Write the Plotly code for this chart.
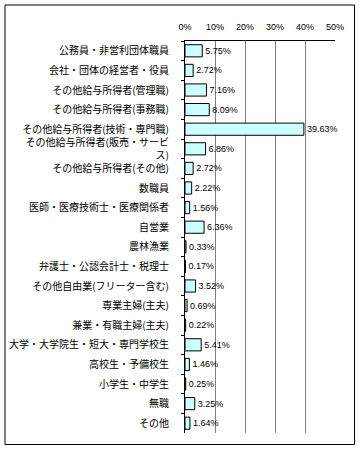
import plotly.graph_objects as go

categories = [
    "公務員・非営利団体職員",
    "会社・団体の経営者・役員",
    "その他給与所得者(管理職)",
    "その他給与所得者(事務職)",
    "その他給与所得者(技術・専門職)",
    "その他給与所得者(販売・サービ<br>ス)",
    "その他給与所得者(その他)",
    "数職員",
    "医師・医療技術士・医療関係者",
    "自営業",
    "農林漁業",
    "弁護士・公認会計士・税理士",
    "その他自由業(フリーター含む)",
    "専業主婦(主夫)",
    "兼業・有職主婦(主夫)",
    "大学・大学院生・短大・専門学校生",
    "高校生・予備校生",
    "小学生・中学生",
    "無職",
    "その他",
]
values = [5.75, 2.72, 7.16, 8.09, 39.63, 6.86, 2.72, 2.22, 1.56, 6.36,
          0.33, 0.17, 3.52, 0.69, 0.22, 5.41, 1.46, 0.25, 3.25, 1.64]
tick_vals = [0, 10, 20, 30, 40, 50]
tick_text = ["0%", "10%", "20%", "30%", "40%", "50%"]

fig = go.Figure(go.Bar(
    x=values, y=categories, orientation="h",
    marker=dict(color="#CCFFFF", line=dict(color="black", width=1)),
    width=0.62,
    text=[f"{v:.2f}%" for v in values],
    textposition="outside",
    textfont=dict(family="Arial, Liberation Sans", size=9, color="black"),
    cliponaxis=False,
))

fig.update_layout(
    width=360, height=450,
    margin=dict(l=185, r=25, t=41, b=17),
    paper_bgcolor="white", plot_bgcolor="white",
    showlegend=False,
    font=dict(family="Noto Sans CJK JP", color="black"),
    xaxis=dict(
        side="top", range=[0, 50], tickvals=tick_vals, ticktext=tick_text,
        showgrid=True, gridcolor="#808080", gridwidth=1,
        zeroline=False, showline=True, linecolor="black", linewidth=1,
        ticks="", tickfont=dict(family="Arial, Liberation Sans", size=9),
        ticklabelstandoff=6, fixedrange=True, automargin=False,
    ),
    yaxis=dict(
        autorange="reversed", showline=True, linecolor="black", linewidth=1,
        ticks="outside", ticklen=3, tickcolor="black", tickson="boundaries",
        tickfont=dict(family="Noto Sans CJK JP", size=10),
        ticklabelstandoff=13, showgrid=False, automargin=False,
    ),
    shapes=[dict(type="rect", xref="paper", yref="paper",
                 x0=(5 - 185) / 150, x1=(354.5 - 185) / 150,
                 y0=(433 - 444.5) / 392, y1=(433 - 5) / 392,
                 line=dict(color="black", width=1), fillcolor="rgba(0,0,0,0)")],
    bargap=0.35,
)

fig.write_html("out.html")
